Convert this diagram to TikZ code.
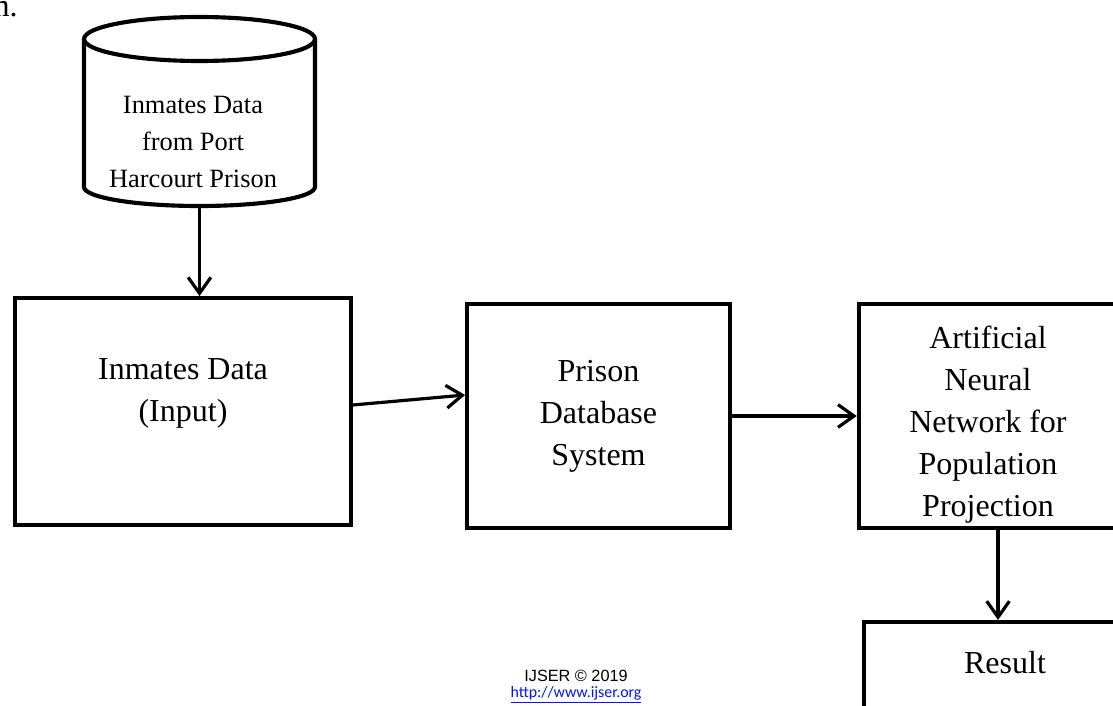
\documentclass[tikz,border=0pt]{standalone}
\usepackage{fontspec}
\setmainfont{Liberation Serif}
\newfontfamily\ijserfont{Liberation Sans}
\newfontfamily\linkfont{Carlito}
\usetikzlibrary{arrows.meta}
\definecolor{linkblue}{RGB}{5,20,240}
\begin{document}
\begin{tikzpicture}[x=0.75pt,y=-0.75pt]
			\tikzstyle{r} = [draw, shape=rectangle, line width=3.1pt, inner sep=0pt]
			\tikzstyle{t} = [align=center, font=\fontsize{24}{31.5}\selectfont]
			\tikzstyle{a} = [line width=2.4pt, -{Straight Barb[length=12pt,width=17pt,line width=2.4pt]}]
			\useasboundingbox (0,0) rectangle (1113,706);
			% source of the data
			\node[anchor=base east, inner sep=0pt, font=\fontsize{24}{28}\selectfont] (frag) at (18,17) {m.};
			\draw[line width=3.1pt] (199.5,39) ellipse [x radius=86.6pt, y radius=16.5pt];
			\draw[line width=3.1pt] (84,39) -- (84,187) arc[start angle=180, end angle=360, x radius=86.6pt, y radius=14.25pt] -- (315,39);
			\coordinate (src) at (199.5,206);
			\node[align=center, font=\fontsize{19.8}{27.75}\selectfont] (src-text) at (193,142) {Inmates Data\\from Port\\Harcourt Prison};
			% the four boxes
			\node[r, minimum width=252pt, minimum height=170pt] (input) at (183,411.5) {};
			\node[t] (input-text) at (183,393.5) {Inmates Data\\(Input)};
			\node[r, minimum width=197pt, minimum height=168pt] (pdb) at (598.5,416) {};
			\node[t] (pdb-text) at (598.5,416) {Prison\\Database\\System};
			\node[r, minimum width=196pt, minimum height=168pt] (ann) at (989.5,416) {};
			\node[t] (ann-text) at (988,424.5) {Artificial\\Neural\\Network for\\Population\\Projection};
			\node[r, minimum width=211.5pt, minimum height=103.5pt] (result) at (1005,691) {};
			\node[t, anchor=base] (result-text) at (1005,673) {Result};
			% footer
			\node[font=\ijserfont\fontsize{12.2}{14}\selectfont] (ijser) at (576,676) {IJSER © 2019};
			\node[font=\linkfont\fontsize{11.9}{14}\selectfont, text=linkblue] (url) at (576,695) {\underline{http://www.ijser.org}};
			% arrows
			\draw[a] (src) -- (src |- input.north);
			\draw[a] ([yshift=4.9pt]input.east) -- ([yshift=15.75pt]pdb.west);
			\draw[a] (pdb.east) -- (ann.west);
			\draw[a] ([xshift=6.4pt]ann.south) -- ([xshift=6.4pt]ann.south |- result.north);
\end{tikzpicture}
\end{document}
